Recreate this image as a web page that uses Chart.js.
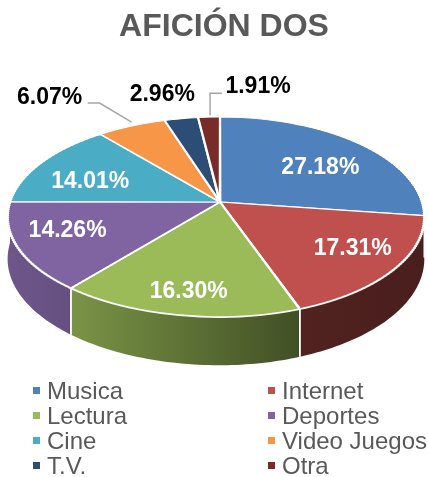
<!DOCTYPE html>
<html>
<head>
<meta charset="utf-8">
<script src="https://cdn.jsdelivr.net/npm/chart.js@4.4.1/dist/chart.umd.min.js"></script>
<style>
  html, body { margin: 0; padding: 0; background: #ffffff; }
  #wrap { position: relative; width: 428px; height: 477px; overflow: hidden; }
  #c { position: absolute; left: 0; top: 0; }
  .lg { position: absolute; height: 25px; line-height: 25px; font-family: "Liberation Sans", Arial, sans-serif; font-size: 24px; color: #595959; white-space: nowrap; }
  .bx { position: absolute; width: 7px; height: 7px; }
</style>
</head>
<body>
<div id="wrap">
  <canvas id="c" width="428" height="477"></canvas>
  <div id="legend"></div>
</div>
<script>
// ---- data ----
const title = 'AFICIÓN DOS';
const categories = ['Musica', 'Internet', 'Lectura', 'Deportes', 'Cine', 'Video Juegos', 'T.V.', 'Otra'];
const values = [27.18, 17.31, 16.30, 14.26, 14.01, 6.07, 2.96, 1.91];
const colors = ['#4F81BD', '#C0504D', '#9BBB59', '#8064A2', '#4BACC6', '#F79646', '#2C4D75', '#772C2A'];

// ---- 3D perspective projection of the pie's top face ----
const P = { cx: 220, cy: 202, BL: 210, BR: 202, A: 97.75, k: 0.15, D: 41 };
function proj(u, v) { const s = 1 / (1 - P.k * v); const B = u < 0 ? P.BL : P.BR; return { x: P.cx + B * u * s, y: P.cy + P.A * v * s, s: s }; }
function invV(y) { const d = (y - P.cy) / P.A; return d / (1 + P.k * d); }
function hexRgb(h) { const n = parseInt(h.slice(1), 16); return [(n >> 16) & 255, (n >> 8) & 255, n & 255]; }
function shade(h, f) { const c = hexRgb(h); return 'rgb(' + c.map(x => Math.round(x * f)).join(',') + ')'; }

const FONT = '"Liberation Sans", Arial, sans-serif';
// label placement tweaks (screen px) for inside labels, and offsets for outside labels
const insideNudge = [[-6, 11], [6, -3], [-2, 8], [-3, -4], [6, 10]];
const outside = {
  5: { label: [-82, -28.5], leader: [[0, -4], [-32, -23], [-44, -23]] },
  6: { label: [-19, -24.2], leader: null },
  7: { label: [49, -30.6], leader: [[1, -2], [1, -24], [13, -24]] }
};

const pie3d = {
  id: 'pie3d',
  beforeDatasetsDraw(chart) {
    const ctx = chart.ctx;
    const els = chart.getDatasetMeta(0).data;
    const W = chart.width;
    // side walls (front half)
    els.forEach((el, i) => {
      const a0 = Math.max(el.startAngle, 0), a1 = Math.min(el.endAngle, Math.PI);
      if (a1 <= a0) return;
      const n = Math.max(2, Math.ceil((a1 - a0) / 0.02));
      const top = [], bot = [];
      for (let j = 0; j <= n; j++) {
        const a = a0 + (a1 - a0) * j / n;
        const p = proj(Math.cos(a), Math.sin(a));
        top.push(p); bot.push({ x: p.x, y: p.y + P.D * p.s });
      }
      const g = ctx.createLinearGradient(8, 0, 426, 0);
      g.addColorStop(0, shade(colors[i], 0.86));
      g.addColorStop(0.15, shade(colors[i], 0.79));
      g.addColorStop(0.7, shade(colors[i], 0.42));
      g.addColorStop(1, shade(colors[i], 0.38));
      ctx.save();
      ctx.beginPath();
      ctx.moveTo(top[0].x, top[0].y);
      top.forEach(p => ctx.lineTo(p.x, p.y));
      for (let j = bot.length - 1; j >= 0; j--) ctx.lineTo(bot[j].x, bot[j].y);
      ctx.closePath();
      ctx.fillStyle = g;
      ctx.fill();
      ctx.strokeStyle = '#ffffff';
      ctx.lineWidth = 1.6;
      [[a0, top[0], bot[0]], [a1, top[top.length - 1], bot[bot.length - 1]]].forEach(([a, t, b]) => {
        if (a > 0.001 && a < Math.PI - 0.001) {
          ctx.beginPath(); ctx.moveTo(t.x, t.y); ctx.lineTo(b.x, b.y); ctx.stroke();
        }
      });
      ctx.restore();
    });
    // top face: library arcs drawn strip by strip under a perspective mapping
    const yTop = Math.floor(proj(0, -1.04).y), yBot = Math.ceil(proj(0, 1.04).y);
    const halves = [[0, P.cx, P.BL], [P.cx, W - P.cx, P.BR]];
    for (let y0 = yTop; y0 < yBot; y0 += 2) {
      const y1 = y0 + 2;
      const v0 = invV(y0), v1 = invV(y1), vm = (v0 + v1) / 2;
      halves.forEach(([hx, hw, B]) => {
        els.forEach(el => {
          const R = el.outerRadius;
          const sx = B / (1 - P.k * vm) / R;
          const sy = (y1 - y0) / ((v1 - v0) * R);
          ctx.save();
          ctx.beginPath(); ctx.rect(hx, y0, hw, y1 - y0); ctx.clip();
          ctx.translate(P.cx - sx * el.x, y0 - sy * (el.y + v0 * R));
          ctx.scale(sx, sy);
          el.draw(ctx);
          ctx.restore();
        });
      });
    }
    return false;
  },
  afterDraw(chart) {
    const ctx = chart.ctx;
    const els = chart.getDatasetMeta(0).data;
    ctx.save();
    ctx.font = 'bold 23px ' + FONT;
    ctx.textAlign = 'center';
    ctx.textBaseline = 'middle';
    els.forEach((el, i) => {
      const m = (el.startAngle + el.endAngle) / 2;
      const txt = values[i].toFixed(2) + '%';
      if (outside[i]) {
        const E = proj(Math.cos(m), Math.sin(m));
        const o = outside[i];
        if (o.leader) {
          ctx.strokeStyle = '#A6A6A6'; ctx.lineWidth = 1.5;
          ctx.beginPath();
          o.leader.forEach((d, j) => { const x = E.x + d[0], y = E.y + d[1]; j ? ctx.lineTo(x, y) : ctx.moveTo(x, y); });
          ctx.stroke();
        }
        ctx.fillStyle = '#000000';
        ctx.fillText(txt, E.x + o.label[0], E.y + o.label[1]);
      } else {
        const f = 0.75;
        const p = proj(f * Math.cos(m), f * Math.sin(m));
        const nd = insideNudge[i] || [0, 0];
        ctx.fillStyle = '#ffffff';
        ctx.fillText(txt, p.x + nd[0], p.y + nd[1]);
      }
    });
    ctx.restore();
  }
};

const chart = new Chart(document.getElementById('c'), {
  type: 'pie',
  data: {
    labels: categories,
    datasets: [{ data: values, backgroundColor: colors, borderColor: '#ffffff', borderWidth: 2.5 }]
  },
  options: {
    responsive: false,
    animation: false,
    events: [],
    layout: { padding: { left: 20 } },
    plugins: {
      legend: { display: false },
      tooltip: { enabled: false },
      title: {
        display: true, text: title, color: '#595959',
        font: { family: FONT, size: 32, weight: 'bold' },
        padding: { top: 8, bottom: 10 }
      }
    }
  },
  plugins: [pie3d]
});

// legend (two columns) built from the chart's data
const lg = document.getElementById('legend');
categories.forEach((name, i) => {
  const row = Math.floor(i / 2), col = i % 2;
  const x = col ? 268 : 33;
  const top = 378 + row * 25;
  const b = document.createElement('div');
  b.className = 'bx';
  b.style.left = x + 'px'; b.style.top = (top + 9) + 'px';
  b.style.background = colors[i];
  lg.appendChild(b);
  const t = document.createElement('div');
  t.className = 'lg';
  t.style.left = (x + 14) + 'px'; t.style.top = top + 'px';
  t.textContent = name;
  lg.appendChild(t);
});
</script>
</body>
</html>
